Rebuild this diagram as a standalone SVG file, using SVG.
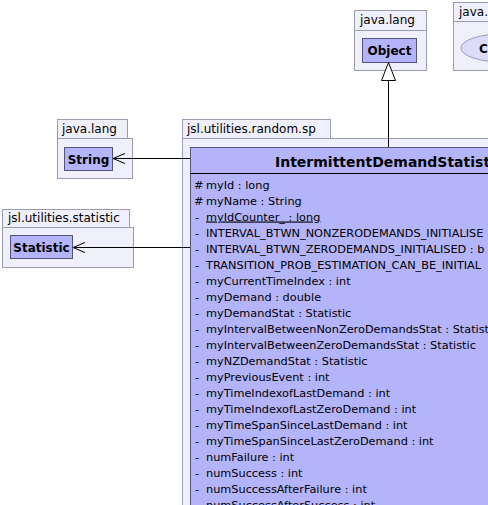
<svg xmlns="http://www.w3.org/2000/svg" width="488" height="505" viewBox="0 0 488 505">
<style>
.pkg{fill:#f0f0fc;stroke:#9c9cb0;stroke-width:1}
.cls{fill:#b4b4fa;stroke:#55557a;stroke-width:1}
.t{font-family:"DejaVu Sans",sans-serif;font-size:12px;fill:#000}
.a{font-family:"DejaVu Sans",sans-serif;font-size:11.3px;fill:#000}
.b{font-family:"DejaVu Sans",sans-serif;font-size:12px;font-weight:bold;fill:#000}
.h{font-family:"DejaVu Sans",sans-serif;font-size:14px;font-weight:bold;fill:#000}
.ln{stroke:#000;stroke-width:1;fill:none}
</style>
<rect width="488" height="505" fill="#fff"/>
<g id="pkg-java-lang-object">
<rect class="pkg" x="354.5" y="10.5" width="72" height="20"/>
<rect class="pkg" x="354.5" y="30.5" width="72" height="40"/>
<text class="t" x="360" y="24">java.lang</text>
<g id="node-object">
<rect class="cls" x="362.5" y="38.5" width="54" height="24"/>
<text class="b" x="389.5" y="55" text-anchor="middle">Object</text>
</g>
</g>
<g id="pkg-java-right">
<rect class="pkg" x="453.5" y="2.5" width="60" height="19"/>
<rect class="pkg" x="453.5" y="21.5" width="80" height="49"/>
<text class="t" x="459" y="16">java.</text>
<g id="node-interface">
<ellipse cx="502" cy="48" rx="41" ry="14" fill="#dcdcf8" stroke="#9c9cb0"/>
<text class="b" x="479" y="53">C</text>
</g>
</g>
<g id="pkg-java-lang-string">
<rect class="pkg" x="57.5" y="119.5" width="70" height="19"/>
<rect class="pkg" x="57.5" y="138.5" width="75" height="40"/>
<text class="t" x="62" y="133">java.lang</text>
<g id="node-string">
<rect class="cls" x="64.5" y="147.5" width="48" height="23"/>
<text class="b" x="88.5" y="163.5" text-anchor="middle">String</text>
</g>
</g>
<g id="pkg-statistic">
<rect class="pkg" x="2.5" y="209.5" width="127" height="18"/>
<rect class="pkg" x="2.5" y="227.5" width="131" height="40"/>
<text class="t" x="8" y="222">jsl.utilities.statistic</text>
<g id="node-statistic">
<rect class="cls" x="10.5" y="235.5" width="62" height="23"/>
<text class="b" x="41.5" y="251.5" text-anchor="middle">Statistic</text>
</g>
</g>
<g id="pkg-random-sp">
<rect class="pkg" x="182.5" y="119.5" width="148" height="19"/>
<rect class="pkg" x="182.5" y="138.5" width="330" height="380"/>
<text class="t" x="187" y="133">jsl.utilities.random.sp</text>
<g id="node-ids">
<rect class="cls" x="190.5" y="147.5" width="320" height="370"/>
<line x1="190" y1="173.5" x2="510" y2="173.5" stroke="#000"/>
<text class="h" x="275" y="167">IntermittentDemandStatist</text>
<g class="a">
<text x="194" y="188.5">#</text><text x="206" y="188.5">myId : long</text>
<text x="194" y="204.5">#</text><text x="206" y="204.5">myName : String</text>
<text x="195" y="220.5">-</text><text x="206" y="220.5" text-decoration="underline">myIdCounter_ : long</text>
<text x="195" y="236.5">-</text><text x="206" y="236.5">INTERVAL_BTWN_NONZERODEMANDS_INITIALISE</text>
<text x="195" y="252.5">-</text><text x="206" y="252.5">INTERVAL_BTWN_ZERODEMANDS_INITIALISED : b</text>
<text x="195" y="268.5">-</text><text x="206" y="268.5">TRANSITION_PROB_ESTIMATION_CAN_BE_INITIAL</text>
<text x="195" y="284.5">-</text><text x="206" y="284.5">myCurrentTimeIndex : int</text>
<text x="195" y="300.5">-</text><text x="206" y="300.5">myDemand : double</text>
<text x="195" y="316.5">-</text><text x="206" y="316.5">myDemandStat : Statistic</text>
<text x="195" y="332.5">-</text><text x="206" y="332.5">myIntervalBetweenNonZeroDemandsStat : Statisti</text>
<text x="195" y="348.5">-</text><text x="206" y="348.5">myIntervalBetweenZeroDemandsStat : Statistic</text>
<text x="195" y="364.5">-</text><text x="206" y="364.5">myNZDemandStat : Statistic</text>
<text x="195" y="380.5">-</text><text x="206" y="380.5">myPreviousEvent : int</text>
<text x="195" y="396.5">-</text><text x="206" y="396.5">myTimeIndexofLastDemand : int</text>
<text x="195" y="412.5">-</text><text x="206" y="412.5">myTimeIndexofLastZeroDemand : int</text>
<text x="195" y="428.5">-</text><text x="206" y="428.5">myTimeSpanSinceLastDemand : int</text>
<text x="195" y="444.5">-</text><text x="206" y="444.5">myTimeSpanSinceLastZeroDemand : int</text>
<text x="195" y="460.5">-</text><text x="206" y="460.5">numFailure : int</text>
<text x="195" y="476.5">-</text><text x="206" y="476.5">numSuccess : int</text>
<text x="195" y="492.5">-</text><text x="206" y="492.5">numSuccessAfterFailure : int</text>
<text x="195" y="508.5">-</text><text x="206" y="508.5">numSuccessAfterSuccess : int</text>
</g>
</g>
</g>
<g id="connectors">
<line class="ln" x1="388.5" y1="147" x2="388.5" y2="80"/>
<polygon points="388.5,62.5 381.5,80.5 395.5,80.5" fill="#fff" stroke="#000"/>
<line class="ln" x1="190" y1="158.5" x2="113" y2="158.5"/>
<polyline class="ln" points="125,153.5 113,158.5 125,163.5"/>
<line class="ln" x1="190" y1="247.5" x2="73" y2="247.5"/>
<polyline class="ln" points="85,242.5 73,247.5 85,252.5"/>
</g>
</svg>
